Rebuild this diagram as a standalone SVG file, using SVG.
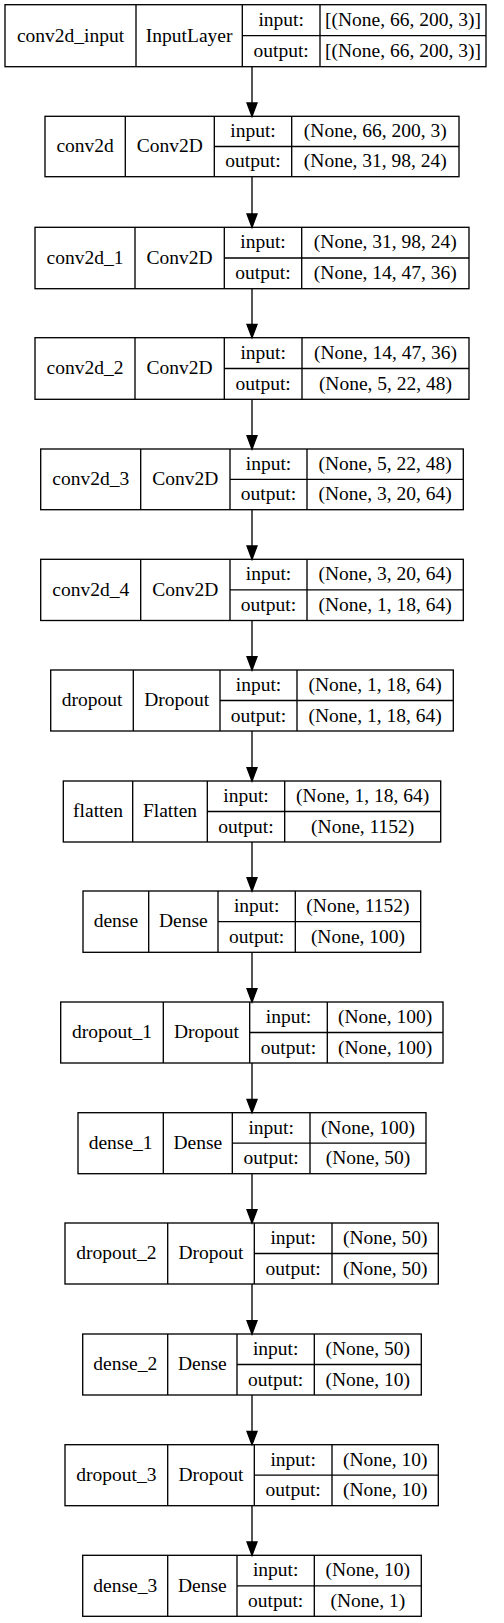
<svg xmlns="http://www.w3.org/2000/svg" width="504" height="1623" viewBox="0 0 504 1623">
<style>
.b{fill:none;stroke:#000;stroke-width:1.33}
.e{fill:none;stroke:#000;stroke-width:1.33}
text{font-family:"Liberation Serif","Times New Roman",serif;font-size:19.5px;text-anchor:middle;fill:#000}
</style>
<defs>
<marker id="ah" markerUnits="userSpaceOnUse" markerWidth="14" markerHeight="11" refX="0" refY="5" orient="auto" overflow="visible">
<path d="M0,0 L13.3,5 L0,10 z" fill="#000" stroke="#000" stroke-width="1.33"/>
</marker>
</defs>
<rect width="504" height="1623" fill="#fff"/>

<g id="conv2d_input">
<rect class="b" x="5" y="4.7" width="481" height="62"/>
<path class="b" d="M136,4.7V66.7M242.3,4.7V66.7M320,4.7V66.7M242.3,35.7H486"/>
<text x="70.5" y="41.5">conv2d_input</text>
<text x="189.15" y="41.5">InputLayer</text>
<text x="281.15" y="26">input:</text>
<text x="403" y="26">[(None, 66, 200, 3)]</text>
<text x="281.15" y="57">output:</text>
<text x="403" y="57">[(None, 66, 200, 3)]</text>
</g>

<g id="conv2d">
<rect class="b" x="45" y="116.3" width="414" height="60.4"/>
<path class="b" d="M125.3,116.3V176.7M214.3,116.3V176.7M291.7,116.3V176.7M214.3,146.5H459"/>
<text x="85.15" y="152.3">conv2d</text>
<text x="169.8" y="152.3">Conv2D</text>
<text x="253" y="137.2">input:</text>
<text x="375.35" y="137.2">(None, 66, 200, 3)</text>
<text x="253" y="167.4">output:</text>
<text x="375.35" y="167.4">(None, 31, 98, 24)</text>
</g>

<g id="conv2d_1">
<rect class="b" x="35" y="227.3" width="434" height="61.4"/>
<path class="b" d="M135,227.3V288.7M224.3,227.3V288.7M301.7,227.3V288.7M224.3,258H469"/>
<text x="85" y="263.8">conv2d_1</text>
<text x="179.65" y="263.8">Conv2D</text>
<text x="263" y="248.45">input:</text>
<text x="385.35" y="248.45">(None, 31, 98, 24)</text>
<text x="263" y="279.15">output:</text>
<text x="385.35" y="279.15">(None, 14, 47, 36)</text>
</g>

<g id="conv2d_2">
<rect class="b" x="35" y="337.7" width="434" height="61.6"/>
<path class="b" d="M135,337.7V399.3M224.3,337.7V399.3M302,337.7V399.3M224.3,368.5H469"/>
<text x="85" y="374.3">conv2d_2</text>
<text x="179.65" y="374.3">Conv2D</text>
<text x="263.15" y="358.9">input:</text>
<text x="385.5" y="358.9">(None, 14, 47, 36)</text>
<text x="263.15" y="389.7">output:</text>
<text x="385.5" y="389.7">(None, 5, 22, 48)</text>
</g>

<g id="conv2d_3">
<rect class="b" x="40.7" y="449" width="422.6" height="60.7"/>
<path class="b" d="M140.7,449V509.7M230,449V509.7M307,449V509.7M230,479.35H463.3"/>
<text x="90.7" y="485.15">conv2d_3</text>
<text x="185.35" y="485.15">Conv2D</text>
<text x="268.5" y="470">input:</text>
<text x="385.15" y="470">(None, 5, 22, 48)</text>
<text x="268.5" y="500.3">output:</text>
<text x="385.15" y="500.3">(None, 3, 20, 64)</text>
</g>

<g id="conv2d_4">
<rect class="b" x="40.7" y="559.3" width="422.6" height="61.2"/>
<path class="b" d="M140.7,559.3V620.5M230,559.3V620.5M307,559.3V620.5M230,589.9H463.3"/>
<text x="90.7" y="595.7">conv2d_4</text>
<text x="185.35" y="595.7">Conv2D</text>
<text x="268.5" y="580.4">input:</text>
<text x="385.15" y="580.4">(None, 3, 20, 64)</text>
<text x="268.5" y="611">output:</text>
<text x="385.15" y="611">(None, 1, 18, 64)</text>
</g>

<g id="dropout">
<rect class="b" x="50.7" y="670" width="402.6" height="61"/>
<path class="b" d="M133.3,670V731M220,670V731M297,670V731M220,700.5H453.3"/>
<text x="92" y="706.3">dropout</text>
<text x="176.65" y="706.3">Dropout</text>
<text x="258.5" y="691.05">input:</text>
<text x="375.15" y="691.05">(None, 1, 18, 64)</text>
<text x="258.5" y="721.55">output:</text>
<text x="375.15" y="721.55">(None, 1, 18, 64)</text>
</g>

<g id="flatten">
<rect class="b" x="63.3" y="781" width="377.4" height="61"/>
<path class="b" d="M132.7,781V842M207.3,781V842M284.7,781V842M207.3,811.5H440.7"/>
<text x="98" y="817.3">flatten</text>
<text x="170" y="817.3">Flatten</text>
<text x="246" y="802.05">input:</text>
<text x="362.7" y="802.05">(None, 1, 18, 64)</text>
<text x="246" y="832.55">output:</text>
<text x="362.7" y="832.55">(None, 1152)</text>
</g>

<g id="dense">
<rect class="b" x="83" y="891" width="337.7" height="61.3"/>
<path class="b" d="M148.7,891V952.3M218,891V952.3M295.3,891V952.3M218,921.65H420.7"/>
<text x="115.85" y="927.45">dense</text>
<text x="183.35" y="927.45">Dense</text>
<text x="256.65" y="912.1">input:</text>
<text x="358" y="912.1">(None, 1152)</text>
<text x="256.65" y="942.8">output:</text>
<text x="358" y="942.8">(None, 100)</text>
</g>

<g id="dropout_1">
<rect class="b" x="60.7" y="1002" width="382.3" height="61"/>
<path class="b" d="M163.3,1002V1063M249.7,1002V1063M327.3,1002V1063M249.7,1032.5H443"/>
<text x="112" y="1038.3">dropout_1</text>
<text x="206.5" y="1038.3">Dropout</text>
<text x="288.5" y="1023.05">input:</text>
<text x="385.15" y="1023.05">(None, 100)</text>
<text x="288.5" y="1053.55">output:</text>
<text x="385.15" y="1053.55">(None, 100)</text>
</g>

<g id="dense_1">
<rect class="b" x="78" y="1112.7" width="348" height="61"/>
<path class="b" d="M163.3,1112.7V1173.7M232.3,1112.7V1173.7M310,1112.7V1173.7M232.3,1143.2H426"/>
<text x="120.65" y="1149">dense_1</text>
<text x="197.8" y="1149">Dense</text>
<text x="271.15" y="1133.75">input:</text>
<text x="368" y="1133.75">(None, 100)</text>
<text x="271.15" y="1164.25">output:</text>
<text x="368" y="1164.25">(None, 50)</text>
</g>

<g id="dropout_2">
<rect class="b" x="65" y="1223" width="373.3" height="61"/>
<path class="b" d="M167.7,1223V1284M254.3,1223V1284M332,1223V1284M254.3,1253.5H438.3"/>
<text x="116.35" y="1259.3">dropout_2</text>
<text x="211" y="1259.3">Dropout</text>
<text x="293.15" y="1244.05">input:</text>
<text x="385.15" y="1244.05">(None, 50)</text>
<text x="293.15" y="1274.55">output:</text>
<text x="385.15" y="1274.55">(None, 50)</text>
</g>

<g id="dense_2">
<rect class="b" x="82.7" y="1334" width="338.6" height="61"/>
<path class="b" d="M167.7,1334V1395M237,1334V1395M314.3,1334V1395M237,1364.5H421.3"/>
<text x="125.2" y="1370.3">dense_2</text>
<text x="202.35" y="1370.3">Dense</text>
<text x="275.65" y="1355.05">input:</text>
<text x="367.8" y="1355.05">(None, 50)</text>
<text x="275.65" y="1385.55">output:</text>
<text x="367.8" y="1385.55">(None, 10)</text>
</g>

<g id="dropout_3">
<rect class="b" x="65" y="1444.7" width="373.3" height="61"/>
<path class="b" d="M167.7,1444.7V1505.7M254.3,1444.7V1505.7M332,1444.7V1505.7M254.3,1475.2H438.3"/>
<text x="116.35" y="1481">dropout_3</text>
<text x="211" y="1481">Dropout</text>
<text x="293.15" y="1465.75">input:</text>
<text x="385.15" y="1465.75">(None, 10)</text>
<text x="293.15" y="1496.25">output:</text>
<text x="385.15" y="1496.25">(None, 10)</text>
</g>

<g id="dense_3">
<rect class="b" x="82.7" y="1555.3" width="338.6" height="61"/>
<path class="b" d="M167.7,1555.3V1616.3M237,1555.3V1616.3M314.3,1555.3V1616.3M237,1585.8H421.3"/>
<text x="125.2" y="1591.6">dense_3</text>
<text x="202.35" y="1591.6">Dense</text>
<text x="275.65" y="1576.35">input:</text>
<text x="367.8" y="1576.35">(None, 10)</text>
<text x="275.65" y="1606.85">output:</text>
<text x="367.8" y="1606.85">(None, 1)</text>
</g>

<g id="connectors">
<line class="e" x1="252" y1="66.7" x2="252" y2="103" marker-end="url(#ah)"/>
<line class="e" x1="252" y1="176.7" x2="252" y2="214" marker-end="url(#ah)"/>
<line class="e" x1="252" y1="288.7" x2="252" y2="324.4" marker-end="url(#ah)"/>
<line class="e" x1="252" y1="399.3" x2="252" y2="435.7" marker-end="url(#ah)"/>
<line class="e" x1="252" y1="509.7" x2="252" y2="546" marker-end="url(#ah)"/>
<line class="e" x1="252" y1="620.5" x2="252" y2="656.7" marker-end="url(#ah)"/>
<line class="e" x1="252" y1="731" x2="252" y2="767.7" marker-end="url(#ah)"/>
<line class="e" x1="252" y1="842" x2="252" y2="877.7" marker-end="url(#ah)"/>
<line class="e" x1="252" y1="952.3" x2="252" y2="988.7" marker-end="url(#ah)"/>
<line class="e" x1="252" y1="1063" x2="252" y2="1099.4" marker-end="url(#ah)"/>
<line class="e" x1="252" y1="1173.7" x2="252" y2="1209.7" marker-end="url(#ah)"/>
<line class="e" x1="252" y1="1284" x2="252" y2="1320.7" marker-end="url(#ah)"/>
<line class="e" x1="252" y1="1395" x2="252" y2="1431.4" marker-end="url(#ah)"/>
<line class="e" x1="252" y1="1505.7" x2="252" y2="1542" marker-end="url(#ah)"/>
</g>
</svg>
